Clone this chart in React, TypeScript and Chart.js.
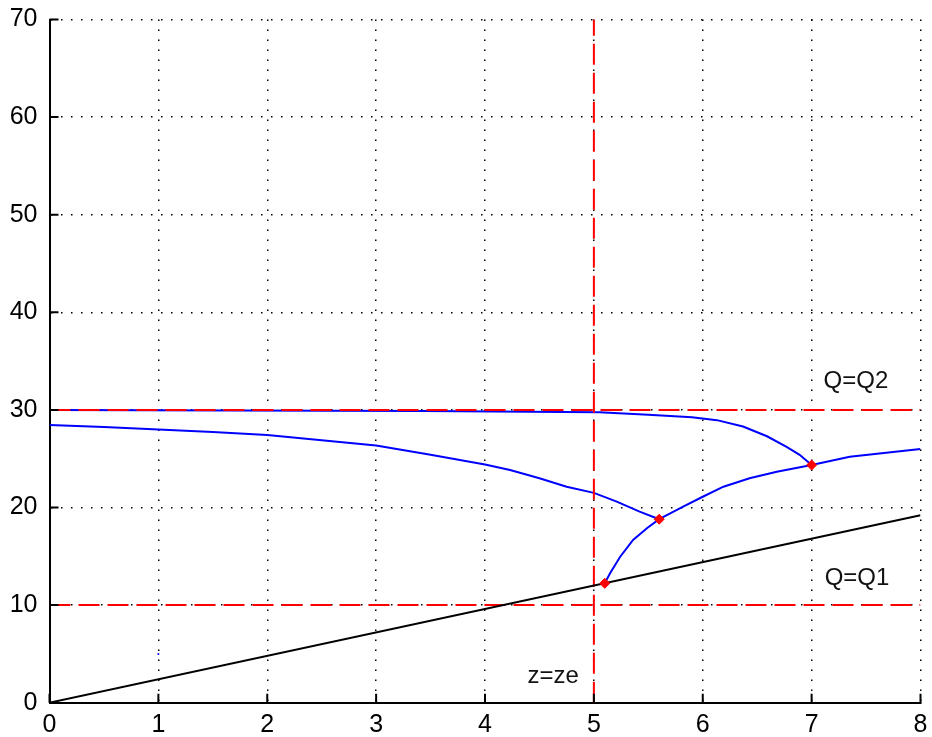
import React, { useEffect, useRef } from 'react';
import { Chart, registerables } from 'chart.js';

Chart.register(...registerables);

// Axis ticks
const xTickValues = [0, 1, 2, 3, 4, 5, 6, 7, 8];
const yTickValues = [0, 10, 20, 30, 40, 50, 60, 70];

// Black straight line
const blackX = [0, 8];
const blackY = [0, 19.2];

// Lower blue curve (from left edge down to the middle marker)
const lowerX = [0, 0.5, 1, 1.5, 2, 2.5, 3, 3.5, 4, 4.23, 4.5, 4.75, 5.0, 5.21, 5.42, 5.6];
const lowerY = [28.45, 28.25, 27.98, 27.73, 27.42, 26.9, 26.35, 25.4, 24.4, 23.84, 22.99, 22.13, 21.5, 20.6, 19.57, 18.8];

// Upper blue curve (flat at Q2 then bending down to x=7)
const upperX = [0, 3.43, 5.05, 5.5, 5.9, 6.13, 6.37, 6.59, 6.77, 6.89, 7.0];
const upperY = [30, 29.9, 29.75, 29.5, 29.25, 28.95, 28.3, 27.3, 26.2, 25.4, 24.35];

// Rising blue curve (from the lowest marker to the right edge)
const risingX = [5.1, 5.15, 5.24, 5.36, 5.49, 5.6, 5.82, 6.0, 6.19, 6.43, 6.68, 7.0, 7.35, 8.0];
const risingY = [12.23, 13.29, 14.93, 16.67, 17.9, 18.8, 20.08, 21.1, 22.13, 22.99, 23.67, 24.35, 25.2, 26.0];

// Red markers
const markerX = [5.1, 5.6, 7.0];
const markerY = [12.23, 18.8, 24.35];

// Stray blue point
const dotX = [1];
const dotY = [5];

// Reference (red dash-dot) levels
const q1Level = 10;
const q2Level = 30;
const zeLevel = 5;

// Text annotations (left x, baseline y in data units)
const annTexts = ['Q=Q2', 'Q=Q1', 'z=ze'];
const annX = [7.11, 7.12, 4.39];
const annY = [32.2, 12.1, 1.99];

const FONT = '"Liberation Sans", Arial, Helvetica, sans-serif';

const pts = (xs: number[], ys: number[]) => xs.map((x, i) => ({ x, y: ys[i] }));

const decorPlugin = {
  id: 'decor',
  afterDraw(chart: any) {
    const { ctx, chartArea, scales } = chart;
    const xs = scales.x;
    const ys = scales.y;
    ctx.save();
    // inward tick marks
    ctx.strokeStyle = '#000';
    ctx.lineWidth = 2;
    ctx.beginPath();
    xTickValues.forEach((v) => {
      const px = xs.getPixelForValue(v);
      ctx.moveTo(px, chartArea.bottom);
      ctx.lineTo(px, chartArea.bottom - 9);
    });
    yTickValues.forEach((v) => {
      const py = ys.getPixelForValue(v);
      ctx.moveTo(chartArea.left, py);
      ctx.lineTo(chartArea.left + 9, py);
    });
    ctx.stroke();
    // annotations
    ctx.fillStyle = '#111';
    ctx.font = '24px ' + FONT;
    ctx.textAlign = 'left';
    ctx.textBaseline = 'alphabetic';
    annTexts.forEach((t, i) => {
      ctx.fillText(t, xs.getPixelForValue(annX[i]), ys.getPixelForValue(annY[i]));
    });
    ctx.restore();
  },
};

export default function App() {
  const canvasRef = useRef<HTMLCanvasElement | null>(null);

  useEffect(() => {
    if (!canvasRef.current) return;
    const red = '#ff0000';
    const blue = '#0000ff';
    const redDash = [21, 8];
    const redLine = (data: { x: number; y: number }[]) => ({
      data,
      showLine: true,
      borderColor: red,
      borderWidth: 2,
      borderDash: redDash,
      pointRadius: 0,
      fill: false,
      order: 2,
    });
    const blueLine = (data: { x: number; y: number }[]) => ({
      data,
      showLine: true,
      borderColor: blue,
      borderWidth: 2,
      pointRadius: 0,
      fill: false,
      order: 3,
    });

    const chart = new Chart(canvasRef.current, {
      type: 'scatter',
      data: {
        datasets: [
          {
            data: pts(markerX, markerY),
            showLine: false,
            pointStyle: 'rectRot',
            pointRadius: 5,
            borderWidth: 1,
            backgroundColor: red,
            borderColor: red,
            order: 0,
          } as any,
          {
            data: pts(blackX, blackY),
            showLine: true,
            borderColor: '#000',
            borderWidth: 2,
            pointRadius: 0,
            order: 1,
          },
          redLine([{ x: 0, y: q2Level }, { x: 8, y: q2Level }]),
          redLine([{ x: 0, y: q1Level }, { x: 8, y: q1Level }]),
          redLine([{ x: zeLevel, y: 0 }, { x: zeLevel, y: 70 }]),
          blueLine(pts(upperX, upperY)),
          blueLine(pts(lowerX, lowerY)),
          blueLine(pts(risingX, risingY)),
          {
            data: pts(dotX, dotY),
            showLine: false,
            pointRadius: 1,
            borderWidth: 0,
            backgroundColor: blue,
            order: 3,
          },
        ] as any,
      },
      options: {
        animation: false,
        responsive: false,
        maintainAspectRatio: false,
        layout: { padding: { left: 0, top: 19.5, right: 11.5, bottom: 0 } },
        plugins: { legend: { display: false }, tooltip: { enabled: false } },
        scales: {
          x: {
            type: 'linear',
            min: 0,
            max: 8,
            afterFit: (s: any) => {
              s.height = 34.3;
              s.paddingLeft = 0;
              s.paddingRight = 0;
              s.paddingTop = 0;
              s.paddingBottom = 0;
            },
            afterBuildTicks: (s: any) => {
              s.ticks = xTickValues.map((v) => ({ value: v }));
            },
            ticks: {
              color: '#000',
              font: { family: FONT, size: 25 },
              padding: 7,
              maxRotation: 0,
              callback: (v: any) => String(v),
            },
            grid: { color: '#000', lineWidth: 1.5, drawTicks: false },
            border: { display: true, color: '#000', width: 2, dash: [1.5, 8.5] },
          },
          y: {
            type: 'linear',
            min: 0,
            max: 70,
            afterFit: (s: any) => {
              s.width = 49.5;
              s.paddingLeft = 0;
              s.paddingRight = 0;
              s.paddingTop = 0;
              s.paddingBottom = 0;
            },
            afterBuildTicks: (s: any) => {
              s.ticks = yTickValues.map((v) => ({ value: v }));
            },
            ticks: {
              color: '#000',
              font: { family: FONT, size: 25 },
              padding: 12,
              callback: (v: any) => String(v),
            },
            grid: { color: '#000', lineWidth: 1.5, drawTicks: false },
            border: { display: true, color: '#000', width: 2, dash: [1.5, 8.5] },
          },
        },
      } as any,
      plugins: [decorPlugin],
    });
    return () => chart.destroy();
  }, []);

  return (
    <div style={{ position: 'fixed', left: 0, top: 0, width: 932, height: 737, background: '#fff' }}>
      <canvas ref={canvasRef} width={932} height={737} style={{ width: 932, height: 737, display: 'block' }} />
    </div>
  );
}
